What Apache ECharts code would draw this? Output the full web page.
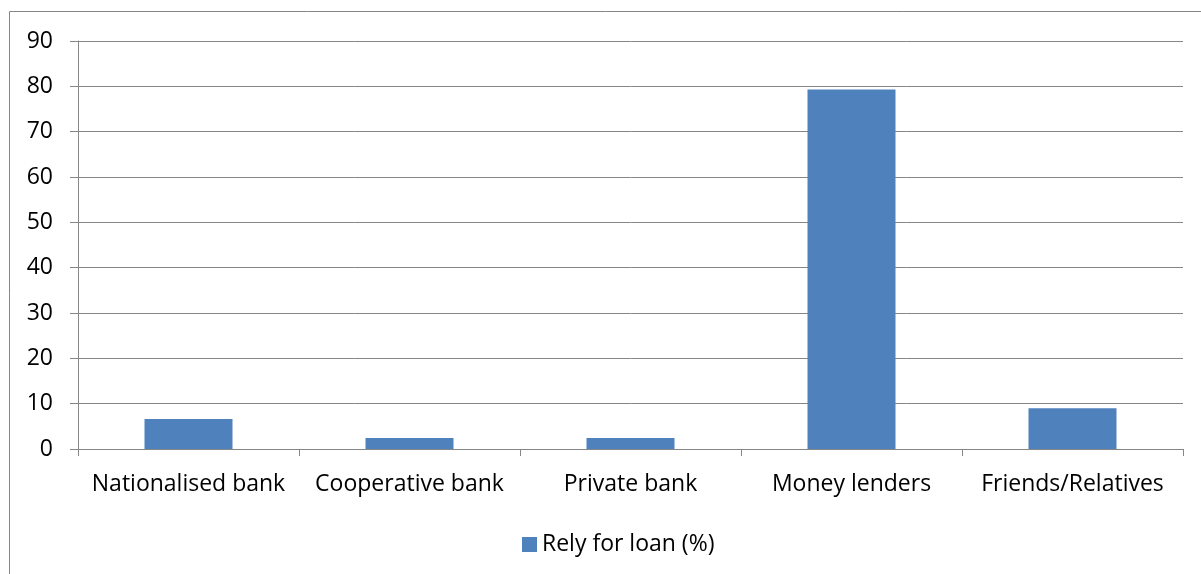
<!DOCTYPE html>
<html>
<head>
<meta charset="utf-8">
<script src="https://cdn.jsdelivr.net/npm/echarts@6/dist/echarts.min.js"></script>
<style>
  html, body { margin: 0; padding: 0; background: #fff; }
  #main { width: 1201px; height: 574px; }
</style>
</head>
<body>
<div id="main"></div>
<script>
// data
var categories = ['Nationalised bank', 'Cooperative bank', 'Private bank', 'Money lenders', 'Friends/Relatives']
var relyForLoan = [6.6, 2.4, 2.4, 79.3, 9.0]
var seriesName = 'Rely for loan (%)'

var gray = '#868686'
var font = 'Open Sans'

var myChart = echarts.init(document.getElementById('main'))
var option = {
  animation: false,
  textStyle: { fontFamily: font },
  graphic: [
    {
      type: 'rect',
      shape: { x: 9.5, y: 11.5, width: 1200, height: 600 },
      style: { fill: 'none', stroke: gray, lineWidth: 1 }
    }
  ],
  grid: {
    left: 78,
    right: 18,
    top: 41,
    bottom: 125,
    containLabel: false
  },
  legend: {
    data: [{ name: seriesName, icon: 'rect' }],
    left: 517,
    top: 528,
    itemWidth: 15,
    itemHeight: 15,
    itemGap: 6,
    textStyle: { fontSize: 23, color: '#000', fontFamily: font }
  },
  xAxis: {
    type: 'category',
    data: categories,
    axisLine: { lineStyle: { color: gray, width: 1 } },
    axisTick: { show: true, length: 7, lineStyle: { color: gray } },
    axisLabel: { color: '#000', fontSize: 23, margin: 24, interval: 0, fontFamily: font }
  },
  yAxis: {
    type: 'value',
    min: 0,
    max: 90,
    interval: 10,
    axisLine: { show: true, lineStyle: { color: gray, width: 1 } },
    axisTick: { show: true, length: 8, lineStyle: { color: gray } },
    splitLine: { lineStyle: { color: gray, width: 1 } },
    axisLabel: { color: '#000', fontSize: 23, margin: 25, fontFamily: font }
  },
  series: [
    {
      name: seriesName,
      type: 'bar',
      data: relyForLoan,
      barWidth: 88,
      itemStyle: { color: '#4F81BD' }
    }
  ]
}
myChart.setOption(option)
</script>
</body>
</html>
